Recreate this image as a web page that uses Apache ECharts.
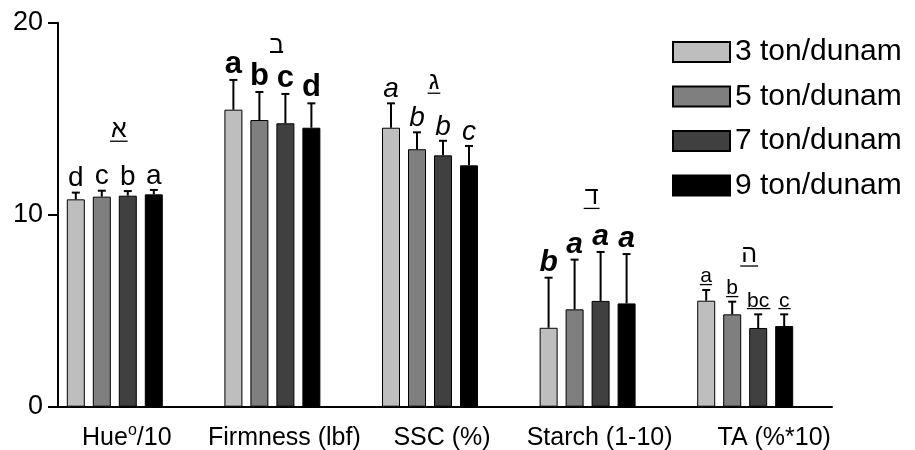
<!DOCTYPE html>
<html>
<head>
<meta charset="utf-8">
<script src="https://cdn.jsdelivr.net/npm/echarts@6/dist/echarts.min.js"></script>
<style>html,body{margin:0;padding:0;background:#fff}#chart{width:915px;height:450px}</style>
</head>
<body>
<div id="chart"></div>
<script>
var chart = echarts.init(document.getElementById('chart'));

// categories and treatments
var categories = ['Hue°/10', 'Firmness (lbf)', 'SSC (%)', 'Starch (1-10)', 'TA (%*10)'];
var treatments = ['3 ton/dunam', '5 ton/dunam', '7 ton/dunam', '9 ton/dunam'];

// means
var means3 = [10.80, 15.47, 14.53, 4.11, 5.52];
var means5 = [10.94, 14.93, 13.41, 5.07, 4.81];
var means7 = [10.99, 14.76, 13.09, 5.51, 4.10];
var means9 = [11.06, 14.53, 12.57, 5.38, 4.20];

// error (upper only)
var sd3 = [0.35, 1.55, 1.27, 2.61, 0.56];
var sd5 = [0.31, 1.46, 0.88, 2.59, 0.66];
var sd7 = [0.24, 1.53, 0.76, 2.55, 0.71];
var sd9 = [0.23, 1.27, 1.01, 2.57, 0.61];

// significance letters
var letters3 = ['d', 'a', 'a', 'b', 'a'];
var letters5 = ['c', 'b', 'b', 'a', 'b'];
var letters7 = ['b', 'c', 'b', 'a', 'bc'];
var letters9 = ['a', 'd', 'c', 'a', 'c'];

// hebrew group marks and their heights
var groupMarks = ['א', 'ב', 'ג', 'ד', 'ה'];
var groupMarkHeights = [14.4, 18.8, 16.9, 10.9, 7.9];

var yTicks = [0, 10, 20];

var colors = ['#bebebe', '#7f7f7f', '#404040', '#000000'];
var FONT = '"Liberation Sans", Arial, sans-serif';

var allMeans = [means3, means5, means7, means9];
var allSd = [sd3, sd5, sd7, sd9];
var allLetters = [letters3, letters5, letters7, letters9];

// letter styling per group: plain, bold, italic, bold italic, underlined
var letterStyle = [
  {w: 'normal', s: 'normal', size: 28, u: false},
  {w: 'bold', s: 'normal', size: 31, u: false},
  {w: 'normal', s: 'italic', size: 28, u: false},
  {w: 'bold', s: 'italic', size: 30, u: false},
  {w: 'normal', s: 'normal', size: 21, u: true}
];
var markUnderline = [true, false, true, true, true];

function underline(t) {
  return t.split('').map(function (c) { return c + '\u0332'; }).join('');
}

var measureCtx = document.createElement('canvas').getContext('2d');
function textWidth(t, size) {
  measureCtx.font = size + 'px ' + FONT;
  return measureCtx.measureText(t).width;
}

var BAR_W = 18, STEP = 26;

function errSeries(k) {
  return {
    type: 'custom',
    xAxisIndex: 0,
    yAxisIndex: 0,
    z: 5,
    silent: true,
    data: categories.map(function (c, i) { return [i, allMeans[k][i], allSd[k][i]]; }),
    renderItem: function (params, api) {
      var i = api.value(0), m = api.value(1), sd = api.value(2);
      var base = api.coord([i, m]);
      var top = api.coord([i, m + sd]);
      var x = base[0] + (k - 1.5) * STEP;
      var st = letterStyle[i];
      var txt = allLetters[k][i];
      if (st.u) txt = underline(txt);
      return {
        type: 'group',
        children: [
          {type: 'line', shape: {x1: x, y1: base[1], x2: x, y2: top[1]}, style: {stroke: '#000', lineWidth: 2}},
          {type: 'line', shape: {x1: x - 4, y1: top[1], x2: x + 4, y2: top[1]}, style: {stroke: '#000', lineWidth: 2}},
          {type: 'text', x: x, y: top[1] - (st.u ? 3 : 0), style: {
            text: txt, fill: '#000', align: 'center', verticalAlign: 'bottom',
            fontSize: st.size, fontWeight: st.w, fontStyle: st.s, fontFamily: FONT
          }}
        ]
      };
    }
  };
}

var series = [];
treatments.forEach(function (name, k) {
  series.push({
    name: name,
    type: 'bar',
    xAxisIndex: 0,
    yAxisIndex: 0,
    barWidth: BAR_W,
    barGap: '44.4%',
    itemStyle: {color: colors[k], borderColor: '#000', borderWidth: 1},
    emphasis: {disabled: true},
    data: allMeans[k]
  });
});
treatments.forEach(function (name, k) { series.push(errSeries(k)); });

series.push({
  type: 'custom',
  xAxisIndex: 0,
  yAxisIndex: 0,
  silent: true,
  data: groupMarks.map(function (g, i) { return [i, groupMarkHeights[i]]; }),
  renderItem: function (params, api) {
    var i = api.value(0);
    var p = api.coord([i, api.value(1)]);
    var x = p[0] + 4;
    var kids = [{type: 'text', x: x, y: p[1], style: {
      text: groupMarks[i], fill: '#000', align: 'center', verticalAlign: 'middle',
      fontSize: 25, fontFamily: FONT
    }}];
    if (markUnderline[i]) {
      var w = textWidth(groupMarks[i], 25) + 2;
      kids.push({type: 'line', shape: {x1: x - w / 2, y1: p[1] + 11, x2: x + w / 2, y2: p[1] + 11},
        style: {stroke: '#000', lineWidth: 1.3}});
    }
    return {type: 'group', children: kids};
  }
});

var option = {
  animation: false,
  backgroundColor: '#fff',
  legend: {
    orient: 'vertical',
    left: 667,
    top: 32,
    itemWidth: 57,
    itemHeight: 20,
    itemGap: 14.5,
    icon: 'rect',
    data: treatments,
    textStyle: {fontSize: 30, color: '#000', fontFamily: FONT}
  },
  grid: [
    {left: 36, right: 91, top: 22.7, bottom: 43.3, outerBoundsMode: 'none'},
    {left: 58, right: 83, top: 22.7, bottom: 43.3, outerBoundsMode: 'none'}
  ],
  xAxis: [
    {
      type: 'category', gridIndex: 0, data: categories,
      axisLine: {show: false}, axisTick: {show: false},
      axisLabel: {
        interval: 0, margin: 16, color: '#000', fontSize: 25, fontFamily: FONT,
        formatter: function (v, idx) {
          return (idx === 4 ? '{gw|}' : '{g|}') + '{n|' + v.replace('°', '}{sup|o}{n|') + '}';
        },
        rich: {
          g: {width: 24},
          gw: {width: 58},
          n: {fontSize: 25, lineHeight: 30, color: '#000', fontFamily: FONT},
          sup: {fontSize: 16, lineHeight: 16, verticalAlign: 'top', color: '#000', fontFamily: FONT}
        }
      }
    },
    {
      type: 'value', gridIndex: 1, min: 0, max: 1,
      axisLine: {show: true, lineStyle: {color: '#000', width: 2}},
      axisTick: {show: false}, axisLabel: {show: false}, splitLine: {show: false}
    }
  ],
  yAxis: [
    {type: 'value', gridIndex: 0, min: 0, max: 20, show: false},
    {
      type: 'value', gridIndex: 1, min: yTicks[0], max: yTicks[yTicks.length - 1], interval: 10,
      axisLine: {show: true, lineStyle: {color: '#000', width: 2}},
      axisTick: {show: true, length: 10, lineStyle: {color: '#000', width: 2}},
      axisLabel: {color: '#000', fontSize: 27, margin: 15, fontFamily: FONT},
      splitLine: {show: false}
    }
  ],
  series: series
};

chart.setOption(option);
</script>
</body>
</html>
